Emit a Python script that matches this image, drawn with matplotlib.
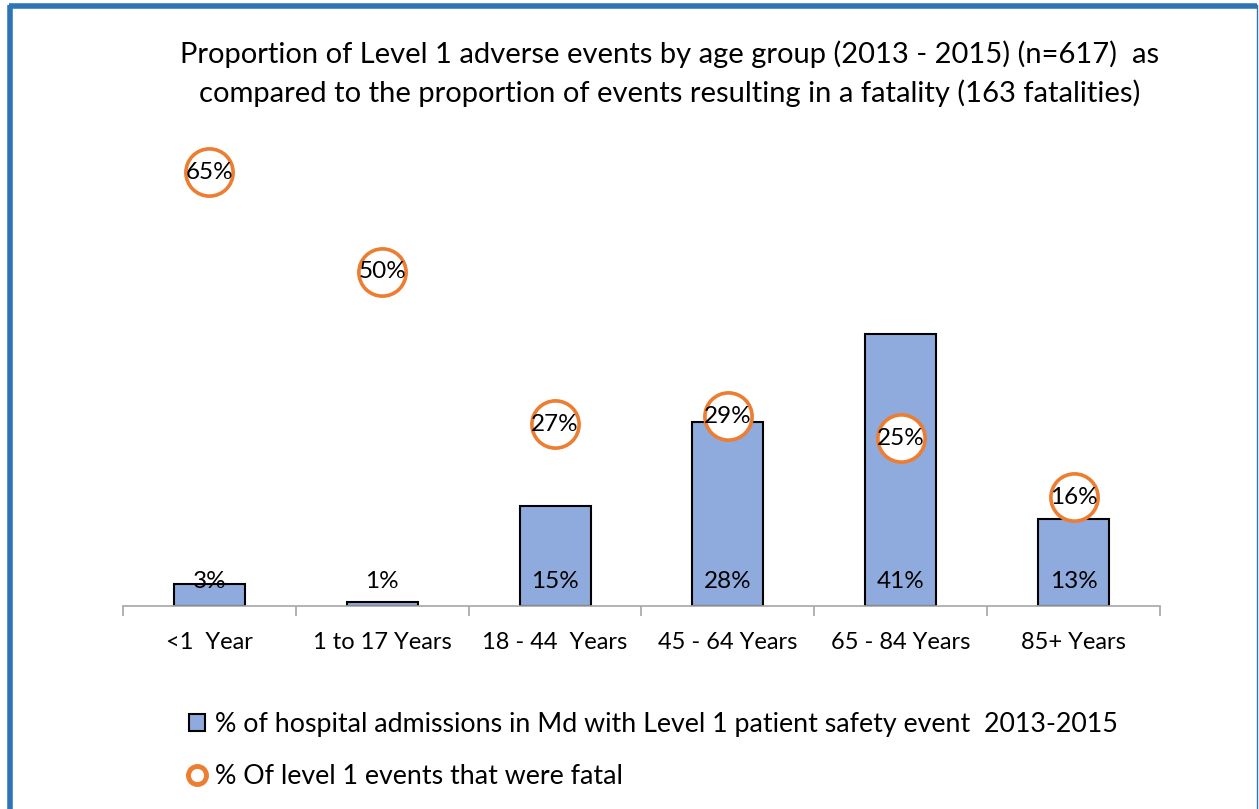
import matplotlib.pyplot as plt
from matplotlib.lines import Line2D
from matplotlib.patches import Patch

plt.rcParams['font.family'] = ['Lato', 'DejaVu Sans']

age_groups = ['<1  Year', '1 to 17 Years', '18 - 44  Years', '45 - 64 Years', '65 - 84 Years', '85+ Years']
admissions_pct = [3.3, 0.6, 15.1, 27.7, 41.0, 13.1]
admissions_labels = ['3%', '1%', '15%', '28%', '41%', '13%']
fatal_pct = [65.4, 50.4, 27.4, 28.6, 25.3, 16.4]
fatal_labels = ['65%', '50%', '27%', '29%', '25%', '16%']

title_1 = 'Proportion of Level 1 adverse events by age group (2013 - 2015) (n=617)  as'
title_2 = 'compared to the proportion of events resulting in a fatality (163 fatalities)'
legend_bar = '% of hospital admissions in Md with Level 1 patient safety event  2013-2015'
legend_circle = '% Of level 1 events that were fatal'

bar_color = '#8FAADC'
circle_color = '#ED7D31'
frame_color = '#2E75B6'

fig = plt.figure(figsize=(12.59, 8.09), dpi=100)
ax = fig.add_axes([123 / 1259, 203 / 809, 1037 / 1259, 464 / 809])

x = list(range(len(age_groups)))
ax.bar(x, admissions_pct, width=0.41, color=bar_color, edgecolor='black', linewidth=1.5, zorder=2)
for xi, lab in zip(x, admissions_labels):
    ax.text(xi, 3.7, lab, ha='center', va='center', fontsize=17.5, zorder=3)

ax.plot(x, fatal_pct, linestyle='none', marker='o', markersize=34, markerfacecolor='white',
        markeredgecolor=circle_color, markeredgewidth=2.6, zorder=4)
for xi, yi, lab in zip(x, fatal_pct, fatal_labels):
    ax.text(xi, yi, lab, ha='center', va='center', fontsize=17.5, zorder=5)

ax.set_xlim(-0.5, len(age_groups) - 0.5)
ax.set_ylim(0, 70)
ax.set_yticks([])
for side in ['top', 'right', 'left']:
    ax.spines[side].set_visible(False)
ax.spines['bottom'].set_color('#A6A6A6')
ax.spines['bottom'].set_linewidth(1.2)
ax.set_xticks([i - 0.5 for i in range(len(age_groups) + 1)])
ax.set_xticklabels([])
ax.set_xticks(x, minor=True)
ax.set_xticklabels(age_groups, minor=True, fontsize=17)
ax.tick_params(axis='x', which='major', length=7, color='#A6A6A6', width=1.2)
ax.tick_params(axis='x', which='minor', length=0, pad=18.5)

fig.text(670 / 1259, 1 - 54 / 809, title_1, ha='center', va='center', fontsize=21)
fig.text(670 / 1259, 1 - 93 / 809, title_2, ha='center', va='center', fontsize=21)

handles = [
    Patch(facecolor=bar_color, edgecolor='black', linewidth=1.5),
    Line2D([], [], linestyle='none', marker='o', markersize=13, markerfacecolor='white',
           markeredgecolor=circle_color, markeredgewidth=3.5),
]
fig.legend(handles, [legend_bar, legend_circle], loc='upper left',
           bbox_to_anchor=(165 / 1259, 1 - 688 / 809), frameon=False, fontsize=19.3,
           handlelength=0.6, handleheight=0.6, handletextpad=0.35, labelspacing=1.0)

# blue frame around the chart (left, top, right)
fig.add_artist(Line2D([10.5 / 1259, 10.5 / 1259], [0, 1 - 5 / 809], color=frame_color, linewidth=4,
                      transform=fig.transFigure, solid_capstyle='butt'))
fig.add_artist(Line2D([8.5 / 1259, 1257 / 1259], [1 - 5.5 / 809, 1 - 5.5 / 809], color=frame_color,
                      linewidth=4, transform=fig.transFigure, solid_capstyle='butt'))
fig.add_artist(Line2D([1256.5 / 1259, 1256.5 / 1259], [0, 1 - 5 / 809], color=frame_color, linewidth=1,
                      transform=fig.transFigure))

fig.savefig('out.png', dpi=100)
